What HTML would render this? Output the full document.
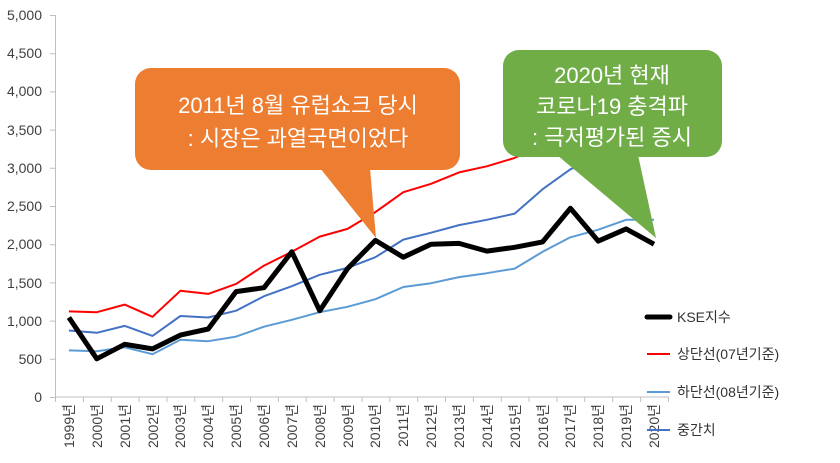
<!DOCTYPE html>
<html><head><meta charset="utf-8"><style>body{margin:0;background:#fff}svg{display:block}text{font-family:"Liberation Sans","Noto Sans CJK KR",sans-serif}</style></head><body>
<svg width="840" height="463" viewBox="0 0 840 463">
<g font-size="14" fill="#404040" text-anchor="end">
<text x="42" y="402">0</text><text x="42" y="364">500</text><text x="42" y="326">1,000</text><text x="42" y="288">1,500</text><text x="42" y="249">2,000</text><text x="42" y="211">2,500</text><text x="42" y="173">3,000</text><text x="42" y="135">3,500</text><text x="42" y="96">4,000</text><text x="42" y="58">4,500</text><text x="42" y="20">5,000</text>
</g>
<g stroke="#bfbfbf" stroke-width="1" fill="none">
<path d="M55.5 15V397H669"/>
<path d="M50 15.5H55M50 53.7H55M50 91.9H55M50 130.1H55M50 168.3H55M50 206.5H55M50 244.7H55M50 282.9H55M50 321.1H55M50 359.3H55M50 397.5H55"/>
<path d="M55.5 397V402M83.4 397V402M111.2 397V402M139.1 397V402M166.9 397V402M194.8 397V402M222.7 397V402M250.5 397V402M278.4 397V402M306.2 397V402M334.1 397V402M362 397V402M389.8 397V402M417.7 397V402M445.5 397V402M473.4 397V402M501.3 397V402M529.1 397V402M557 397V402M584.8 397V402M612.7 397V402M640.6 397V402M668.4 397V402"/>
</g>
<g fill="none" stroke-linejoin="round">
<polyline stroke="#5B9BD5" stroke-width="2" points="68.9,350.4 96.8,351.2 124.7,347.3 152.5,354.2 180.4,339.7 208.2,341.2 236.1,336.6 264,326.7 291.8,319.8 319.7,312.2 347.5,306.8 375.4,299.2 403.3,287 431.1,283.2 459,277.1 486.8,273.2 514.7,268.6 542.6,251.8 570.4,237.3 598.3,229.7 626.1,219.8 654,219.8"/>
<polyline stroke="#4472C4" stroke-width="2" points="68.9,330.5 96.8,332.8 124.7,325.9 152.5,335.9 180.4,316 208.2,317.5 236.1,310.7 264,296.2 291.8,286.2 319.7,274.8 347.5,267.9 375.4,257.2 403.3,239.6 431.1,232.7 459,225.1 486.8,219.8 514.7,213.6 542.6,189.2 570.4,169.3 598.3,156.3 626.1,144.9 654,137.2"/>
<polyline stroke="#f00" stroke-width="2" points="68.9,311.4 96.8,312.2 124.7,304.6 152.5,316.8 180.4,290.8 208.2,293.9 236.1,283.9 264,265.6 291.8,251.8 319.7,236.6 347.5,228.9 375.4,212.1 403.3,192.2 431.1,183.8 459,172.4 486.8,166.3 514.7,157.9 542.6,144.9 570.4,133.4 598.3,122 626.1,110.5 654,99"/>
<polyline stroke="#000" stroke-width="5" points="68.9,317.5 96.8,358.8 124.7,344.3 152.5,348.9 180.4,335.1 208.2,329 236.1,291.6 264,287.7 291.8,251.8 319.7,310.7 347.5,268.6 375.4,240.4 403.3,257.2 431.1,244.2 459,243.4 486.8,251.1 514.7,247.3 542.6,241.9 570.4,208.3 598.3,241.1 626.1,228.9 654,244.2"/>
</g>
<g font-size="14" fill="#404040" text-anchor="end">
<text transform="translate(74,404) rotate(-90)">1999년</text>
<text transform="translate(102,404) rotate(-90)">2000년</text>
<text transform="translate(130,404) rotate(-90)">2001년</text>
<text transform="translate(158,404) rotate(-90)">2002년</text>
<text transform="translate(185,404) rotate(-90)">2003년</text>
<text transform="translate(213,404) rotate(-90)">2004년</text>
<text transform="translate(241,404) rotate(-90)">2005년</text>
<text transform="translate(269,404) rotate(-90)">2006년</text>
<text transform="translate(297,404) rotate(-90)">2007년</text>
<text transform="translate(325,404) rotate(-90)">2008년</text>
<text transform="translate(353,404) rotate(-90)">2009년</text>
<text transform="translate(380,404) rotate(-90)">2010년</text>
<text transform="translate(408,404) rotate(-90)">2011년</text>
<text transform="translate(436,404) rotate(-90)">2012년</text>
<text transform="translate(464,404) rotate(-90)">2013년</text>
<text transform="translate(492,404) rotate(-90)">2014년</text>
<text transform="translate(520,404) rotate(-90)">2015년</text>
<text transform="translate(548,404) rotate(-90)">2016년</text>
<text transform="translate(575,404) rotate(-90)">2017년</text>
<text transform="translate(603,404) rotate(-90)">2018년</text>
<text transform="translate(631,404) rotate(-90)">2019년</text>
<text transform="translate(659,404) rotate(-90)">2020년</text>
</g>
<g fill="#ED7D31"><rect x="135" y="68" width="325" height="102" rx="16"/><polygon points="320,168 370,168 376,238"/></g>
<g fill="#70AD47"><rect x="503" y="50" width="219" height="107" rx="16"/><polygon points="557,155 638,155 656,238"/></g>
<g fill="#fff" font-size="22" text-anchor="middle">
<text x="298" y="113">2011년 8월 유럽쇼크 당시</text><text x="298" y="146">: 시장은 과열국면이었다</text>
<text x="612" y="83">2020년 현재</text><text x="612" y="114">코로나19 충격파</text><text x="612" y="145">: 극저평가된 증시</text>
</g>
<g font-size="14" fill="#333">
<line x1="647" y1="317" x2="670" y2="317" stroke="#000" stroke-width="5" stroke-linecap="round"/><text x="677" y="322">KSE지수</text>
<line x1="647" y1="354" x2="670" y2="354" stroke="#f00" stroke-width="2"/><text x="677" y="359">상단선(07년기준)</text>
<line x1="647" y1="392" x2="670" y2="392" stroke="#5B9BD5" stroke-width="2"/><text x="677" y="397">하단선(08년기준)</text>
<line x1="647" y1="430" x2="670" y2="430" stroke="#4472C4" stroke-width="2"/><text x="677" y="435">중간치</text>
</g>
</svg></body></html>
